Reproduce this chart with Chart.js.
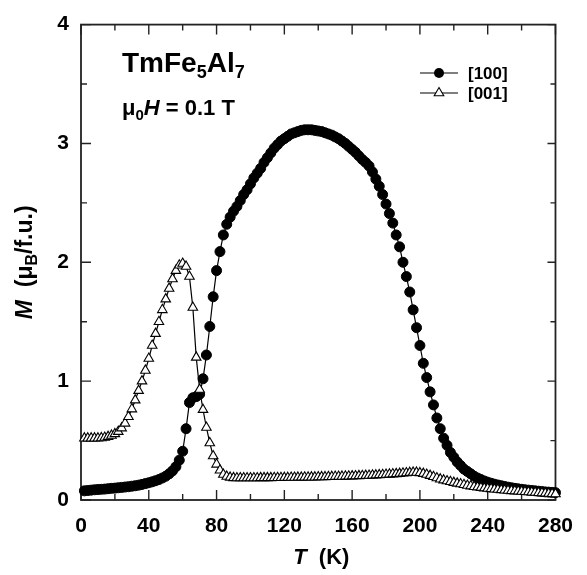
<!DOCTYPE html>
<html>
<head>
<meta charset="utf-8">
<script src="https://cdn.jsdelivr.net/npm/chart.js@4.4.0/dist/chart.umd.min.js"></script>
<style>
  html, body { margin: 0; padding: 0; background: #fff; }
  #wrap { width: 587px; height: 575px; }
</style>
</head>
<body>
<div id="wrap"><canvas id="chartM" width="587" height="575"></canvas></div>
<script>
// temperature (K), shared by both field directions
const temps = [
  2, 4, 6, 8, 10, 12, 14, 16, 18, 20,
  22, 24, 26, 28, 30, 32, 34, 36, 38, 40,
  42, 44, 46, 48, 50, 52, 54, 56, 58, 60,
  62, 64, 66, 68, 70, 72, 74, 76, 78, 80,
  82, 84, 86, 88, 90, 92, 94, 96, 98, 100,
  102, 104, 106, 108, 110, 112, 114, 116, 118, 120,
  122, 124, 126, 128, 130, 132, 134, 136, 138, 140,
  142, 144, 146, 148, 150, 152, 154, 156, 158, 160,
  162, 164, 166, 168, 170, 172, 174, 176, 178, 180,
  182, 184, 186, 188, 190, 192, 194, 196, 198, 200,
  202, 204, 206, 208, 210, 212, 214, 216, 218, 220,
  222, 224, 226, 228, 230, 232, 234, 236, 238, 240,
  242, 244, 246, 248, 250, 252, 254, 256, 258, 260,
  262, 264, 266, 268, 270, 272, 274, 276, 278, 280
];

// M (muB/f.u.), H || [100]
const m100 = [
  0.077, 0.080, 0.083, 0.086, 0.088, 0.090, 0.092, 0.095, 0.098, 0.100,
  0.103, 0.106, 0.109, 0.112, 0.116, 0.120, 0.125, 0.131, 0.138, 0.145,
  0.153, 0.162, 0.172, 0.185, 0.200, 0.220, 0.245, 0.280, 0.335, 0.410,
  0.600, 0.820, 0.860, 0.870, 0.890, 1.020, 1.220, 1.460, 1.710, 1.930,
  2.090, 2.230, 2.320, 2.380, 2.430, 2.470, 2.520, 2.570, 2.610, 2.660,
  2.710, 2.750, 2.790, 2.840, 2.880, 2.920, 2.960, 2.990, 3.020, 3.040,
  3.060, 3.080, 3.090, 3.100, 3.110, 3.115, 3.115, 3.115, 3.110, 3.105,
  3.100, 3.090, 3.080, 3.070, 3.055, 3.040, 3.020, 3.000, 2.975, 2.950,
  2.925, 2.895, 2.865, 2.840, 2.810, 2.760, 2.700, 2.640, 2.570, 2.490,
  2.410, 2.330, 2.230, 2.130, 2.000, 1.880, 1.750, 1.600, 1.450, 1.300,
  1.150, 1.030, 0.910, 0.800, 0.690, 0.600, 0.520, 0.460, 0.400, 0.360,
  0.320, 0.290, 0.260, 0.240, 0.220, 0.200, 0.185, 0.172, 0.160, 0.150,
  0.141, 0.133, 0.126, 0.120, 0.114, 0.108, 0.103, 0.098, 0.094, 0.090,
  0.086, 0.083, 0.080, 0.077, 0.074, 0.071, 0.068, 0.066, 0.064, 0.062
];

// M (muB/f.u.), H || [001]
const m001 = [
  0.520, 0.520, 0.520, 0.520, 0.520, 0.522, 0.526, 0.533, 0.543, 0.556,
  0.575, 0.605, 0.645, 0.700, 0.765, 0.840, 0.920, 1.000, 1.090, 1.190,
  1.300, 1.400, 1.500, 1.600, 1.690, 1.780, 1.860, 1.930, 1.975, 1.990,
  1.965, 1.880, 1.620, 1.200, 0.930, 0.760, 0.610, 0.480, 0.370, 0.300,
  0.250, 0.215, 0.198, 0.190, 0.186, 0.185, 0.185, 0.185, 0.185, 0.185,
  0.185, 0.185, 0.186, 0.186, 0.186, 0.186, 0.187, 0.187, 0.187, 0.188,
  0.188, 0.189, 0.189, 0.190, 0.190, 0.191, 0.191, 0.192, 0.192, 0.193,
  0.194, 0.194, 0.195, 0.196, 0.197, 0.197, 0.198, 0.199, 0.200, 0.201,
  0.202, 0.203, 0.204, 0.205, 0.206, 0.208, 0.209, 0.211, 0.212, 0.214,
  0.216, 0.218, 0.220, 0.222, 0.225, 0.227, 0.230, 0.232, 0.232, 0.228,
  0.222, 0.214, 0.205, 0.195, 0.185, 0.175, 0.167, 0.160, 0.153, 0.146,
  0.140, 0.134, 0.128, 0.122, 0.117, 0.112, 0.108, 0.104, 0.100, 0.097,
  0.094, 0.091, 0.088, 0.085, 0.082, 0.080, 0.077, 0.075, 0.073, 0.071,
  0.069, 0.067, 0.065, 0.063, 0.061, 0.059, 0.057, 0.055, 0.053, 0.051
];

const xMajor = [0, 40, 80, 120, 160, 200, 240, 280];
const xMinor = [20, 60, 100, 140, 180, 220, 260];
const yMajor = [0, 1, 2, 3, 4];
const yMinor = [0.5, 1.5, 2.5, 3.5];

const FAMILY = "'Liberation Sans', Arial, Helvetica, sans-serif";
const INK = "#000";

function toPoints(ys) {
  return temps.map((t, i) => ({ x: t, y: ys[i] }));
}

function runsWidth(ctx, runs) {
  let w = 0;
  runs.forEach((run) => {
    ctx.font = run.font;
    w += ctx.measureText(run.text).width;
  });
  return w;
}

function drawRuns(ctx, x, y, runs) {
  runs.forEach((run) => {
    ctx.font = run.font;
    ctx.fillText(run.text, x, y + (run.dy || 0));
    x += ctx.measureText(run.text).width;
  });
}

const decorPlugin = {
  id: "decor",
  beforeDatasetsDraw(chart) {
    const { ctx, chartArea: a, scales } = chart;
    const sx = scales.x;
    const sy = scales.y;

    ctx.save();
    ctx.strokeStyle = "#222";
    ctx.lineWidth = 1.8;
    ctx.strokeRect(a.left, a.top, a.right - a.left, a.bottom - a.top);

    ctx.lineWidth = 1.4;
    ctx.beginPath();
    xMajor.forEach((v) => {
      const px = sx.getPixelForValue(v);
      ctx.moveTo(px, a.bottom); ctx.lineTo(px, a.bottom - 10);
      ctx.moveTo(px, a.top); ctx.lineTo(px, a.top + 10);
    });
    xMinor.forEach((v) => {
      const px = sx.getPixelForValue(v);
      ctx.moveTo(px, a.bottom); ctx.lineTo(px, a.bottom - 6);
      ctx.moveTo(px, a.top); ctx.lineTo(px, a.top + 6);
    });
    yMajor.forEach((v) => {
      const py = sy.getPixelForValue(v);
      ctx.moveTo(a.left, py); ctx.lineTo(a.left + 10, py);
      ctx.moveTo(a.right, py); ctx.lineTo(a.right - 8, py);
    });
    yMinor.forEach((v) => {
      const py = sy.getPixelForValue(v);
      ctx.moveTo(a.left, py); ctx.lineTo(a.left + 6, py);
      ctx.moveTo(a.right, py); ctx.lineTo(a.right - 5, py);
    });
    ctx.stroke();
    ctx.restore();
  },
  afterDraw(chart) {
    const { ctx, chartArea: a } = chart;
    ctx.save();
    ctx.fillStyle = INK;
    ctx.textBaseline = "alphabetic";
    ctx.textAlign = "left";

    // x axis title
    const xRuns = [
      { text: "T", font: "italic bold 22px " + FAMILY },
      { text: "  (K)", font: "bold 22px " + FAMILY }
    ];
    const xw = runsWidth(ctx, xRuns);
    drawRuns(ctx, (a.left + a.right) / 2 + 3 - xw / 2, 564, xRuns);

    // y axis title
    const yRuns = [
      { text: "M", font: "italic bold 23px " + FAMILY },
      { text: "  (\u03bc", font: "bold 23px " + FAMILY },
      { text: "B", font: "bold 16px " + FAMILY, dy: 5 },
      { text: "/f.u.)", font: "bold 23px " + FAMILY }
    ];
    const yw = runsWidth(ctx, yRuns);
    ctx.save();
    ctx.translate(32, (a.top + a.bottom) / 2);
    ctx.rotate(-Math.PI / 2);
    drawRuns(ctx, -yw / 2, 0, yRuns);
    ctx.restore();

    // compound label
    drawRuns(ctx, 122, 72, [
      { text: "TmFe", font: "bold 28px " + FAMILY },
      { text: "5", font: "bold 18px " + FAMILY, dy: 6 },
      { text: "Al", font: "bold 28px " + FAMILY },
      { text: "7", font: "bold 18px " + FAMILY, dy: 6 }
    ]);

    // field label
    drawRuns(ctx, 122, 115, [
      { text: "\u03bc", font: "bold 22px " + FAMILY },
      { text: "0", font: "bold 15px " + FAMILY, dy: 5 },
      { text: "H", font: "italic bold 22px " + FAMILY },
      { text: " = 0.1 T", font: "bold 22px " + FAMILY }
    ]);

    // legend
    const rows = [
      { label: "[100]", y: 73, style: "circle" },
      { label: "[001]", y: 93, style: "triangle" }
    ];
    rows.forEach((row) => {
      ctx.strokeStyle = INK;
      ctx.lineWidth = 1.2;
      ctx.beginPath();
      ctx.moveTo(420, row.y);
      ctx.lineTo(458, row.y);
      ctx.stroke();
      if (row.style === "circle") {
        ctx.fillStyle = INK;
        ctx.beginPath();
        ctx.arc(439, row.y, 5, 0, Math.PI * 2);
        ctx.fill();
      } else {
        ctx.fillStyle = "#fff";
        ctx.beginPath();
        ctx.moveTo(439, row.y - 5.5);
        ctx.lineTo(439 + 4.8, row.y + 2.8);
        ctx.lineTo(439 - 4.8, row.y + 2.8);
        ctx.closePath();
        ctx.fill();
        ctx.lineWidth = 1.1;
        ctx.stroke();
      }
      ctx.fillStyle = INK;
      ctx.font = "bold 17px " + FAMILY;
      ctx.textBaseline = "middle";
      ctx.fillText(row.label, 468, row.y + 1);
      ctx.textBaseline = "alphabetic";
    });

    ctx.restore();
  }
};

const tickFont = { family: FAMILY, size: 21, weight: "bold" };

new Chart(document.getElementById("chartM"), {
  type: "scatter",
  data: {
    datasets: [
      {
        label: "[100]",
        data: toPoints(m100),
        showLine: true,
        borderColor: INK,
        borderWidth: 1.2,
        pointStyle: "circle",
        pointRadius: 5,
        pointBackgroundColor: INK,
        pointBorderColor: INK,
        pointBorderWidth: 1,
        order: 1,
        clip: false
      },
      {
        label: "[001]",
        data: toPoints(m001),
        showLine: true,
        borderColor: INK,
        borderWidth: 1.2,
        pointStyle: "triangle",
        pointRadius: 5.5,
        pointBackgroundColor: "#fff",
        pointBorderColor: INK,
        pointBorderWidth: 1.1,
        order: 0,
        clip: false
      }
    ]
  },
  options: {
    responsive: false,
    animation: false,
    devicePixelRatio: 1,
    layout: { padding: { top: 15, right: 19, left: 0, bottom: 0 } },
    plugins: {
      legend: { display: false },
      tooltip: { enabled: false }
    },
    scales: {
      x: {
        type: "linear",
        min: 0,
        max: 280,
        ticks: { stepSize: 40, color: INK, font: tickFont, padding: 14, maxRotation: 0 },
        grid: { display: false, drawTicks: false },
        border: { display: false },
        afterFit(scale) { scale.height = 75; }
      },
      y: {
        type: "linear",
        min: 0,
        max: 4,
        ticks: { stepSize: 1, color: INK, font: tickFont, padding: 12 },
        grid: { display: false, drawTicks: false },
        border: { display: false },
        afterFit(scale) { scale.width = 81; }
      }
    }
  },
  plugins: [decorPlugin]
});
</script>
</body>
</html>
